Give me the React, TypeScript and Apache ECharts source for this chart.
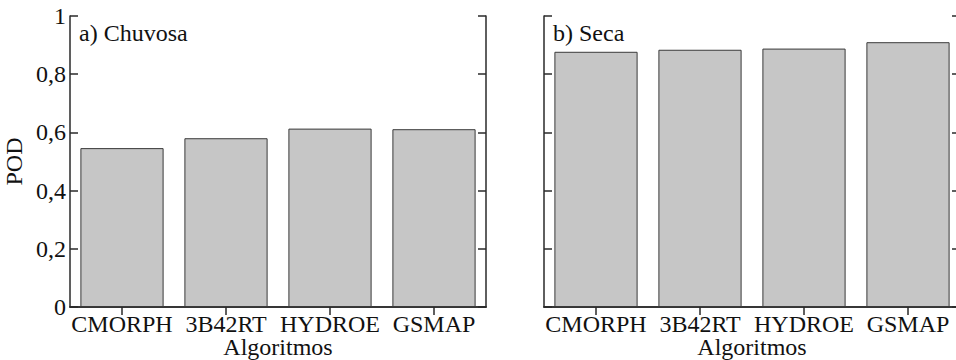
import React, { useEffect, useRef } from "react";
import * as echarts from "echarts";

const categories = ["CMORPH", "3B42RT", "HYDROE", "GSMAP"];
const podChuvosa = [0.546, 0.58, 0.613, 0.611];
const podSeca = [0.877, 0.884, 0.888, 0.91];
const yTicks = [0, 0.2, 0.4, 0.6, 0.8, 1];
const panelTitles = ["a) Chuvosa", "b) Seca"];
const xName = "Algoritmos";
const yName = "POD";

const FONT = "Liberation Serif, Times New Roman, serif";
const LINE = "#2a2a2a";

export default function App() {
  const ref = useRef<HTMLDivElement>(null);
  useEffect(() => {
    if (!ref.current) return;
    const chart = echarts.init(ref.current, null, { renderer: "svg" });
    const grids = [
      { left: 70, top: 16, width: 416, height: 291, outerBoundsMode: "none", containLabel: false },
      { left: 544, top: 16, width: 416, height: 291, outerBoundsMode: "none", containLabel: false },
    ];
    const fmt = (v: number) => (yTicks.includes(Math.round(v * 10) / 10) ? String(Math.round(v * 10) / 10).replace(".", ",") : "");
    const xAxes: any[] = [];
    const yAxes: any[] = [];
    grids.forEach((_, i) => {
      xAxes.push({
        type: "category",
        gridIndex: i,
        data: categories,
        position: "bottom",
        boundaryGap: true,
        axisLine: { lineStyle: { color: LINE, width: 1.5 } },
        axisTick: { show: false },
        axisLabel: { color: "#111", fontFamily: FONT, fontSize: 24, margin: 7, interval: 0, lineHeight: 20 },
      });
      xAxes.push({
        type: "category",
        gridIndex: i,
        data: categories,
        position: "top",
        boundaryGap: true,
        axisLine: { lineStyle: { color: LINE, width: 1.5 } },
        axisTick: { show: true, inside: true, length: 8, alignWithLabel: true, lineStyle: { color: LINE, width: 1.5 } },
        axisLabel: { show: false },
      });
      yAxes.push({
        type: "value",
        gridIndex: i,
        min: 0,
        max: 1,
        interval: 0.2,
        position: "left",
        splitLine: { show: false },
        axisLine: { show: true, lineStyle: { color: LINE, width: 1.5 } },
        axisTick: { show: true, inside: true, length: 8, lineStyle: { color: LINE, width: 1.5 } },
        axisLabel: { show: i === 0, color: "#111", fontFamily: FONT, fontSize: 24, margin: 4, formatter: fmt },
        name: i === 0 ? yName : "",
        nameLocation: "middle",
        nameGap: 44,
        nameTextStyle: { color: "#111", fontFamily: FONT, fontSize: 24 },
      });
      yAxes.push({
        type: "value",
        gridIndex: i,
        min: 0,
        max: 1,
        interval: 0.2,
        position: "right",
        splitLine: { show: false },
        axisLine: { show: true, lineStyle: { color: LINE, width: 1.5 } },
        axisTick: { show: true, inside: true, length: 8, lineStyle: { color: LINE, width: 1.5 } },
        axisLabel: { show: false },
      });
    });
    const seriesData = [podChuvosa, podSeca];
    chart.setOption({
      animation: false,
      backgroundColor: "#fff",
      title: panelTitles.map((t, i) => ({
        text: t,
        left: grids[i].left + 9,
        top: 21,
        textStyle: { color: "#111", fontFamily: FONT, fontSize: 24, fontWeight: "normal" },
        padding: 0,
      })),
      graphic: grids.map((g) => ({
        type: "text",
        x: g.left + g.width / 2,
        y: g.top + g.height + 40,
        style: {
          text: xName,
          fill: "#111",
          font: "24px " + FONT,
          align: "center",
          verticalAlign: "middle",
        },
      })),
      grid: grids,
      xAxis: xAxes,
      yAxis: yAxes,
      series: seriesData.map((d, i) => ({
        type: "bar",
        xAxisIndex: i * 2,
        yAxisIndex: i * 2,
        data: d,
        barCategoryGap: "20%",
        itemStyle: { color: "#c6c6c6", borderColor: "#3a3a3a", borderWidth: 1 },
      })),
    });
    return () => chart.dispose();
  }, []);
  return (
    <div
      ref={ref}
      style={{ position: "absolute", left: 0, top: 0, width: 956, height: 360 }}
    />
  );
}
